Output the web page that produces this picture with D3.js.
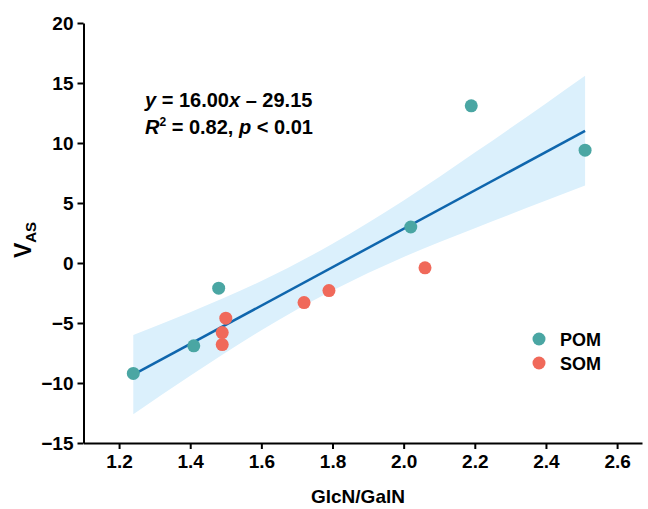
<!DOCTYPE html>
<html>
<head>
<meta charset="utf-8">
<script src="https://d3js.org/d3.v7.min.js"></script>
<style>
body{margin:0;background:#fff;}
svg{font-family:"Liberation Sans",Arial,sans-serif;font-weight:bold;}
.tick text{font-size:19px;font-weight:bold;fill:#000;font-family:"Liberation Sans",Arial,sans-serif;}
.tick line,.domain{stroke:#000;stroke-width:2;}
</style>
</head>
<body>
<div id="chart"></div>
<script>
const w = 648;
const h = 509;

//Data
const pomX = [1.24, 1.41, 1.48, 2.02, 2.19, 2.51];
const pomY = [-9.2, -6.9, -2.1, 3.0, 13.1, 9.4];
const somX = [1.49, 1.49, 1.50, 1.72, 1.79, 2.06];
const somY = [-6.8, -5.8, -4.6, -3.3, -2.3, -0.4];

//Fitted line end points and confidence band
const fitX = [1.24, 2.51];
const fitY = [-9.31, 11.01];
const bandX = [1.24, 1.4, 1.6, 1.8, 2.0, 2.2, 2.4, 2.51];
const bandUpper = [-6.0, -4.1, -1.5, 1.6, 5.2, 9.2, 13.3, 15.6];
const bandLower = [-12.6, -9.4, -5.6, -2.3, 0.5, 2.9, 5.2, 6.45];

const xTicks = [1.2, 1.4, 1.6, 1.8, 2.0, 2.2, 2.4, 2.6];
const yTicks = [-15, -10, -5, 0, 5, 10, 15, 20];
const groups = ['POM', 'SOM'];
const colors = {POM: '#4aa6a3', SOM: '#f0695a'};

//Plot area
const x0 = 83.5, x1 = 642;
const y0 = 443, y1 = 23;

const svg = d3.select("#chart")
.append('svg')
.attr('width', w)
.attr('height', h);

const xScale = d3.scaleLinear().domain([1.1, 2.67]).range([x0, x1]);
const yScale = d3.scaleLinear().domain([-15, 20]).range([y0, y1]);

//Confidence band
const band = bandX.map((d, i) => ({x: d, lo: bandLower[i], hi: bandUpper[i]}));
svg.append('path')
.datum(band)
.attr('fill', '#dbf0fc')
.attr('d', d3.area()
  .x(d => xScale(d.x))
  .y0(d => yScale(d.lo))
  .y1(d => yScale(d.hi))
  .curve(d3.curveMonotoneX));

//Regression line
svg.append('path')
.datum(fitX.map((d, i) => [d, fitY[i]]))
.attr('fill', 'none')
.attr('stroke', '#0f66ad')
.attr('stroke-width', 2.5)
.attr('d', d3.line().x(d => xScale(d[0])).y(d => yScale(d[1])));

//Points
const pts = pomX.map((d, i) => ({x: d, y: pomY[i], g: 'POM'}))
.concat(somX.map((d, i) => ({x: d, y: somY[i], g: 'SOM'})));
svg.append('g')
.selectAll('circle')
.data(pts)
.enter()
.append('circle')
.attr('cx', d => xScale(d.x))
.attr('cy', d => yScale(d.y))
.attr('r', 6.5)
.attr('fill', d => colors[d.g]);

//Axes
const fmtY = d => d < 0 ? '\u2212' + Math.abs(d) : d;
svg.append('g')
.attr('transform', `translate(0,${y0})`)
.call(d3.axisBottom(xScale).tickValues(xTicks).tickFormat(d3.format('.1f')).tickSize(6).tickSizeOuter(0).tickPadding(6));
svg.append('g')
.attr('transform', `translate(${x0},0)`)
.call(d3.axisLeft(yScale).tickValues(yTicks).tickFormat(fmtY).tickSize(6).tickSizeOuter(0).tickPadding(4));

//Axis titles
svg.append('text')
.attr('x', 358)
.attr('y', 503)
.attr('text-anchor', 'middle')
.attr('font-size', 19)
.text('GlcN/GalN');
const yLab = svg.append('text')
.attr('transform', 'translate(31,240) rotate(-90)')
.attr('text-anchor', 'middle')
.attr('font-size', 23);
yLab.append('tspan').text('V');
yLab.append('tspan').attr('font-size', 15).attr('dy', 5).text('AS');

//Equation
const eq1 = svg.append('text').attr('x', 145).attr('y', 107).attr('font-size', 20);
eq1.append('tspan').attr('font-style', 'italic').text('y');
eq1.append('tspan').text(' = 16.00');
eq1.append('tspan').attr('font-style', 'italic').text('x');
eq1.append('tspan').text(' \u2013 29.15');
const eq2 = svg.append('text').attr('x', 145).attr('y', 134).attr('font-size', 20);
eq2.append('tspan').attr('font-style', 'italic').text('R');
eq2.append('tspan').attr('font-size', 12).attr('dy', -8).text('2');
eq2.append('tspan').attr('dy', 8).text(' = 0.82, ');
eq2.append('tspan').attr('font-style', 'italic').text('p');
eq2.append('tspan').text(' < 0.01');

//Legend
const legend = svg.append('g').attr('id', 'legend');
groups.forEach((g, i) => {
  legend.append('circle')
  .attr('cx', 539).attr('cy', 339 + i * 24).attr('r', 6.5)
  .attr('fill', colors[g]);
  legend.append('text')
  .attr('x', 560).attr('y', 346 + i * 24)
  .attr('font-size', 18)
  .text(g);
});
</script>
</body>
</html>
